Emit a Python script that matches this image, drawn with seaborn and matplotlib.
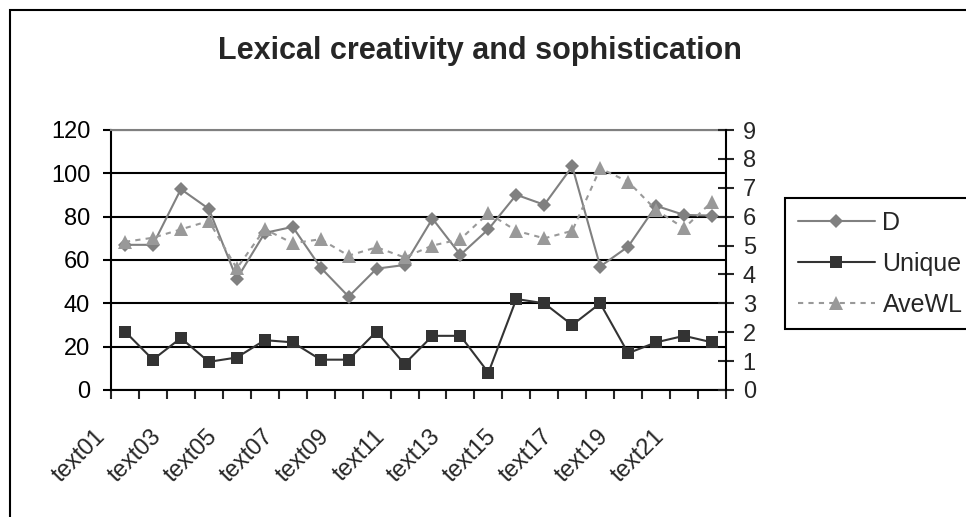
import numpy as np
import pandas as pd
import matplotlib
matplotlib.use("Agg")
import matplotlib.pyplot as plt
from matplotlib.patches import Rectangle
from matplotlib.transforms import ScaledTranslation
import seaborn as sns

# Per-text lexical measures
texts = [f"text{i:02d}" for i in range(1, 23)]
d_values = [67, 67, 92.7, 83.6, 51.3, 72.5, 75.3, 56.5, 43.1, 56, 57.7, 79.1,
            62.4, 74.2, 90.1, 85.5, 103.2, 57, 66.2, 85, 80.8, 80.5]
unique_values = [27, 14, 24, 13, 15, 23, 22, 14, 14, 27, 12, 25,
                 25, 8, 42, 40, 30, 40, 17, 22, 25, 22]
avewl_values = [5.13, 5.27, 5.56, 5.85, 4.21, 5.57, 5.08, 5.22, 4.65, 4.94, 4.59, 5.0,
                5.22, 6.12, 5.51, 5.25, 5.51, 7.67, 7.21, 6.23, 5.6, 6.52]
left_ticks = [0, 20, 40, 60, 80, 100, 120]
right_ticks = list(range(0, 10))

df = pd.DataFrame({
    "pos": np.arange(len(texts)),
    "text": texts,
    "D": d_values,
    "Unique": unique_values,
    "AveWL": avewl_values,
})

sns.set_style("white")
plt.rcParams["font.family"] = ["Liberation Sans", "DejaVu Sans"]

W, H = 966, 517
fig = plt.figure(figsize=(W / 100, H / 100), dpi=100)
ax = fig.add_axes([111 / W, 1 - 390 / H, 615 / W, 260 / H])
ax2 = ax.twinx()

sns.lineplot(data=df, x="pos", y="D", ax=ax, color="#808080", linewidth=1.5,
             marker="D", markersize=6.8, markeredgewidth=0, label="D")
sns.lineplot(data=df, x="pos", y="Unique", ax=ax, color="#333333", linewidth=1.5,
             marker="s", markersize=8.5, markeredgewidth=0, label="Unique")
sns.lineplot(data=df, x="pos", y="AveWL", ax=ax2, color="#999999", linewidth=1.5,
             linestyle=(0, (2.5, 2.5)), marker="^", markersize=9.5,
             markeredgewidth=0, label="AveWL")

for a in (ax, ax2):
    if a.get_legend() is not None:
        a.get_legend().remove()

ax.set_xlim(-0.5, len(texts) - 0.5)
ax.set_ylim(0, 120)
ax2.set_ylim(0, 9)
ax.set_xlabel("")
ax.set_ylabel("")
ax2.set_ylabel("")

# left axis
ax.set_yticks(left_ticks)
ax.tick_params(axis="y", direction="out", length=6, width=1.5, pad=9,
               labelsize=17, colors="black", left=True)
ax.yaxis.grid(True, color="black", linewidth=1.5)
ax.set_axisbelow(True)

# right axis
ax2.set_yticks(right_ticks)
ax2.tick_params(axis="y", direction="inout", length=12, width=1.5, pad=6,
                labelsize=17, right=True)

# category axis: tick marks between categories, labels on every other one
ax.set_xticks(np.arange(-0.5, len(texts), 1), minor=True)
ax.set_xticks(df["pos"][::2])
ax.set_xticklabels(texts[::2], rotation=45, ha="right", va="center",
                   rotation_mode="anchor")
ax.tick_params(axis="x", which="major", length=0, pad=31, labelsize=17)
ax.tick_params(axis="x", which="minor", direction="out", length=6.5, width=1.5,
               bottom=True)
shift = ScaledTranslation(-0.23, 0, fig.dpi_scale_trans)
for lab in ax.get_xticklabels():
    lab.set_transform(lab.get_transform() + shift)

for s in ("left", "bottom"):
    ax.spines[s].set_color("black")
    ax.spines[s].set_linewidth(1.5)
ax.spines["top"].set_color("#808080")
ax.spines["top"].set_linewidth(1.5)
ax.spines["right"].set_visible(False)
for s in ("left", "top", "bottom"):
    ax2.spines[s].set_visible(False)
ax2.spines["right"].set_color("black")
ax2.spines["right"].set_linewidth(1.5)
ax2.patch.set_visible(False)

fig.text(0.497, 1 - 51 / H, "Lexical creativity and sophistication",
         ha="center", va="center", fontsize=22, fontweight="bold")

h1, l1 = ax.get_legend_handles_labels()
h2, l2 = ax2.get_legend_handles_labels()
leg = fig.legend(h1 + h2, l1 + l2, loc="upper left",
                 bbox_to_anchor=(785 / W, 1 - 198 / H), borderaxespad=0,
                 fontsize=18, handlelength=3.1, handletextpad=0.3,
                 labelspacing=0.68, borderpad=0.5, fancybox=False,
                 frameon=True, edgecolor="black", framealpha=1)
leg.get_frame().set_linewidth(1.5)

# chart border
fig.add_artist(Rectangle((10 / W, -0.5), 2, 0.5 + 1 - 10 / H,
                         transform=fig.transFigure, fill=False,
                         edgecolor="black", linewidth=1.5))

fig.savefig("out.png", dpi=100)
